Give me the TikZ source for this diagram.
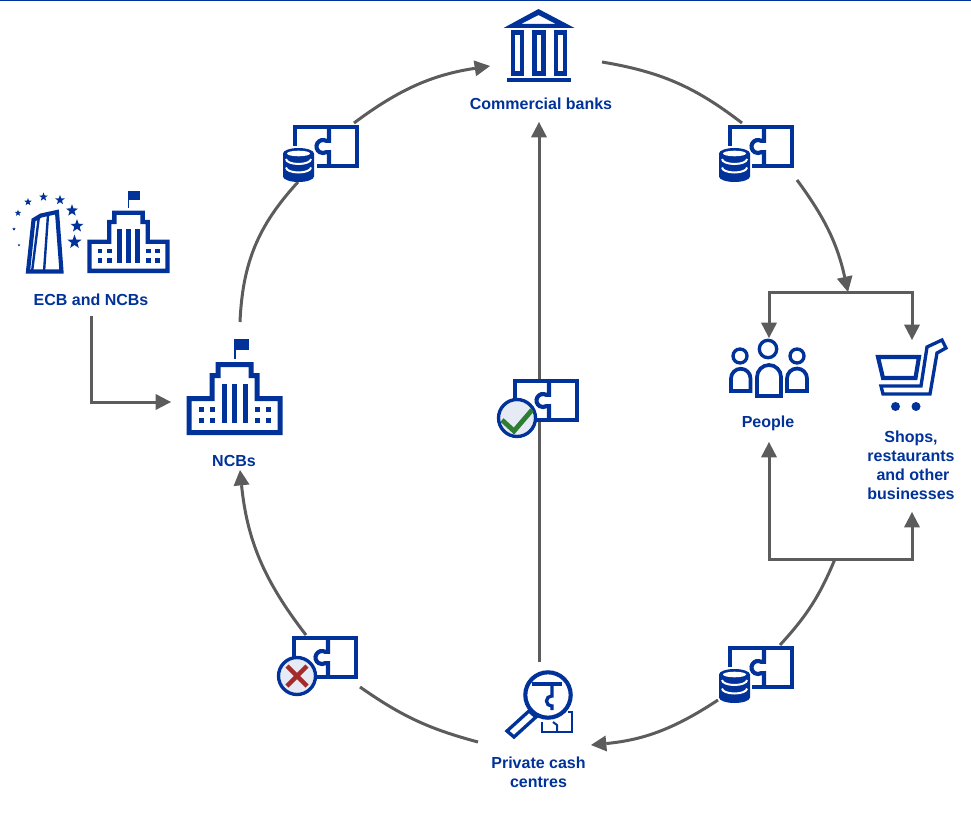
\documentclass[tikz,border=0pt]{standalone}
\usepackage{fontspec}
\setmainfont{Liberation Sans}
\usetikzlibrary{arrows.meta,shapes.geometric}
\definecolor{ecbblue}{HTML}{003299}
\definecolor{flowgrey}{HTML}{5C5C5C}
\definecolor{badgefill}{HTML}{E6EAF5}
\definecolor{okgreen}{HTML}{2E7D32}
\definecolor{nored}{HTML}{A52A2A}
\tikzset{
  flow/.style={draw=flowgrey,line width=2.25pt,-{Triangle[length=11.5pt,width=12pt,fill=flowgrey,line width=0pt]}},
  caption/.style={text=ecbblue,align=center,inner sep=0pt,font=\fontsize{12}{14.25}\selectfont\bfseries},
  icon/.style={draw=ecbblue,line width=3.1pt},
  thinicon/.style={draw=ecbblue,line width=2.5pt},
  eurostar/.style={star,star points=5,star point ratio=2.4,fill=ecbblue,inner sep=0pt},
  pics/puzzle/.style={code={
    \fill[white] (0,0) rectangle (66,43);
    \draw[icon] (2,21) -- (2,2) -- (64,2) -- (64,41) -- (24,41);
    \draw[icon] (36,2) -- (36,15.9) -- (33.25,15.9) arc[start angle=-60,end angle=-300,radius=6.5] -- (36,27.1) -- (36,41);
  }},
  pics/coins/.style={code={
    \fill[ecbblue] (-15.5,-11.5) arc[start angle=180,end angle=360,x radius=15.5,y radius=5.5] -- (15.5,11.5) arc[start angle=0,end angle=180,x radius=15.5,y radius=5.5] -- cycle;
    \fill[white] (0,-11.5) ellipse[x radius=11.5,y radius=2.8];
    \draw[white,line width=1.5pt] (-12.5,-6) arc[start angle=180,end angle=0,x radius=12.5,y radius=5];
    \draw[white,line width=1.5pt] (-12.5,2.5) arc[start angle=180,end angle=0,x radius=12.5,y radius=5];
  }},
  pics/okbadge/.style={code={
    \draw[thinicon,fill=badgefill] (0,0) circle[radius=18.5];
    \draw[draw=okgreen,line width=3.6pt] (-15,2) -- (-3,13) -- (15,-8);
  }},
  pics/nobadge/.style={code={
    \draw[thinicon,fill=badgefill] (0,0) circle[radius=18.5];
    \draw[draw=nored,line width=3.4pt] (-10,-10) -- (10,10) (-10,10) -- (10,-10);
  }},
  pics/building/.style={code={
    \fill[ecbblue,even odd rule] (-48,0) -- (-48,-39) -- (-25,-39) -- (-25,-62) -- (-19,-62) -- (-19,-73) -- (19,-73) -- (19,-62) -- (25,-62) -- (25,-39) -- (48,-39) -- (48,0) -- cycle
      (-43,-5) -- (-43,-34) -- (-20,-34) -- (-20,-57) -- (-14,-57) -- (-14,-68) -- (14,-68) -- (14,-57) -- (20,-57) -- (20,-34) -- (43,-34) -- (43,-5) -- cycle;
    \foreach \xbar in {-13,-2.5,8}
      \fill[ecbblue] (\xbar,-51) rectangle ++(5.2,39);
    \foreach \xwin in {-36,-25,20.5,31.5}
      \foreach \ywin in {-28,-17}
        \fill[ecbblue] (\xwin,\ywin) rectangle ++(5.3,5);
    \fill[ecbblue] (-1,-76) rectangle (1,-96);
    \fill[ecbblue] (0,-96) rectangle (14,-85);
  }},
  pics/bank/.style={code={
    \fill[ecbblue,even odd rule] (-0.5,-36) -- (35.5,-17) -- (-35.5,-17) -- cycle (-0.5,-30) -- (17,-21) -- (-18,-21) -- cycle;
    \draw[icon] (-26,-12.5) rectangle (-17,28.5);
    \draw[icon] (-4.5,-12.5) rectangle (4.5,28.5);
    \draw[icon] (17,-12.5) rectangle (26,28.5);
    \fill[ecbblue] (-32,33) rectangle (32,37);
  }},
}
\begin{document}
\begin{tikzpicture}[x=0.75pt,y=-0.75pt]
      \useasboundingbox (0,0) rectangle (971,813);
      \fill[ecbblue] (0,0) rectangle (971,1.2);
      % labels
      \node[caption] (banks) at (541,104) {Commercial banks};
      \node[caption] (ecb) at (91,299.5) {ECB and NCBs};
      \node[caption] (ncbs) at (234,460.5) {NCBs};
      \node[caption] (people) at (768,423) {People};
      \node[caption] (shops) at (911,465) {Shops,\\restaurants\\\hspace*{3pt}and other\\businesses};
      \node[caption] (cash) at (538.5,772) {Private cash\\centres};
      % connector ends
      \coordinate (ncbs_top) at (240,322);
      \coordinate (lp_low) at (298,182);
      \coordinate (lp_up) at (354,123);
      \coordinate (banks_in) at (490,66);
      \coordinate (banks_out) at (602,62);
      \coordinate (rp_up) at (742,123);
      \coordinate (rp_low) at (797,180);
      \coordinate (fork) at (848,292);
      \coordinate (people_in) at (769,338);
      \coordinate (shops_in) at (912,340);
      \coordinate (people_up) at (769,442);
      \coordinate (shops_up) at (912,512);
      \coordinate (back) at (835,559);
      \coordinate (bp_up) at (780,645);
      \coordinate (bp_low) at (718,700);
      \coordinate (cash_in) at (591,745);
      \coordinate (cash_out) at (478,742);
      \coordinate (xp_low) at (360,687);
      \coordinate (xp_up) at (306,635);
      \coordinate (ncbs_in) at (240,470);
      \coordinate (cash_top) at (539,662);
      \coordinate (banks_low) at (539,122);
      \coordinate (ecb_low) at (91,316);
      \coordinate (ncbs_left) at (171,402);
      \path[every edge/.style={flow}]
      (ncbs_top) edge [-,bend left=20] (lp_low)
      (lp_up) edge [bend left=14] (banks_in)
      (banks_out) edge [-,bend left=14] (rp_up)
      (rp_low) edge [bend left=12] (fork)
      (back) edge [-,bend left=10] (bp_up)
      (bp_low) edge [bend left=14] (cash_in)
      (cash_out) edge [-,bend left=10] (xp_low)
      (xp_up) edge [bend left=16] (ncbs_in)
      (cash_top) edge (banks_low)
      ; %end path
      \draw[flow] (ecb_low) |- (ncbs_left);
      \draw[flow] (fork) -| (people_in);
      \draw[flow] (fork) -| (shops_in);
      \draw[flow] (back) -| (people_up);
      \draw[flow] (back) -| (shops_up);
      % puzzles
      \pic (puzzle_l) at (293,125) {puzzle};
      \pic (puzzle_r) at (728,125) {puzzle};
      \pic (puzzle_b) at (728,646) {puzzle};
      \pic (puzzle_m) at (513,379) {puzzle};
      \pic (puzzle_x) at (292,636) {puzzle};
      \pic (coins_l) at (298.5,165) {coins};
      \pic (coins_r) at (734.5,165) {coins};
      \pic (coins_b) at (734.5,686) {coins};
      \pic (badge_ok) at (517,418) {okbadge};
      \pic (badge_no) at (297,676) {nobadge};
      % institutions
      \pic (bank_icon) at (539,45) {bank};
      \pic (ncb_icon) at (234.5,435) {building};
      \pic[scale=.856] (ecb_icon) at (128.5,273) {building};
      \draw[icon] (28,271.5) -- (33.5,220) -- (41,215.5) -- (57,212) -- (61.5,271.5) -- cycle;
      \draw[thinicon,line width=1.8pt] (32,272) -- (39,216) (44,272) -- (48,215);
      \foreach \i/\xs/\ys/\ds in {1/18/213/6,2/28/202/7,3/43.5/197/8,4/60/200/9,5/72/210.5/11,6/77/226/12,7/74.5/242/13,8/14/229/3,9/19/245/2.5}
        \node[eurostar,minimum size=\ds*0.85pt] (star\i) at (\xs,\ys) {};
      % people
      \draw[thinicon] (768,349) circle[radius=8.7];
      \draw[thinicon] (740,356) circle[radius=7];
      \draw[thinicon] (797,356) circle[radius=7];
      \draw[icon,line width=2.8pt] (757,396) -- (757,377) arc[start angle=180,end angle=360,radius=12] -- (781,396) -- cycle;
      \draw[icon,line width=2.8pt] (731,391) -- (731,378.5) arc[start angle=180,end angle=360,radius=9.75] -- (750.5,391) -- cycle;
      \draw[icon,line width=2.8pt] (787,391) -- (787,378.5) arc[start angle=180,end angle=360,radius=10] -- (807,391) -- cycle;
      % cart
      \draw[icon] (878,357) -- (919,357) -- (915.5,378) -- (883,378) -- cycle;
      \draw[icon,line width=2.5pt] (881,386) -- (921,386) -- (927,347) -- (942,340) -- (946,348) -- (937,353) -- (930,394) -- (883,394) -- cycle;
      \fill[ecbblue] (895.5,406.5) circle[radius=4.5] (916,406.5) circle[radius=4.5];
      % magnifier
      \draw[thinicon,line width=1.5pt] (568,712) -- (572,712) -- (572,732) -- (542,732) -- (542,722);
      \draw[thinicon,line width=1.5pt] (553,722) -- (557,725) -- (557,732);
      \draw[icon] (548,695) circle[radius=22.7];
      \draw[icon] (532,684) -- (562,684);
      \draw[thinicon] (552,684) -- (552,696) -- (551.5,696) arc[start angle=-90,end angle=-270,radius=5] -- (552,706) -- (552,710);
      \draw[thinicon] (529,711) -- (536,717) -- (514,737) -- (507,731) -- cycle;
    \end{tikzpicture}
\end{document}
